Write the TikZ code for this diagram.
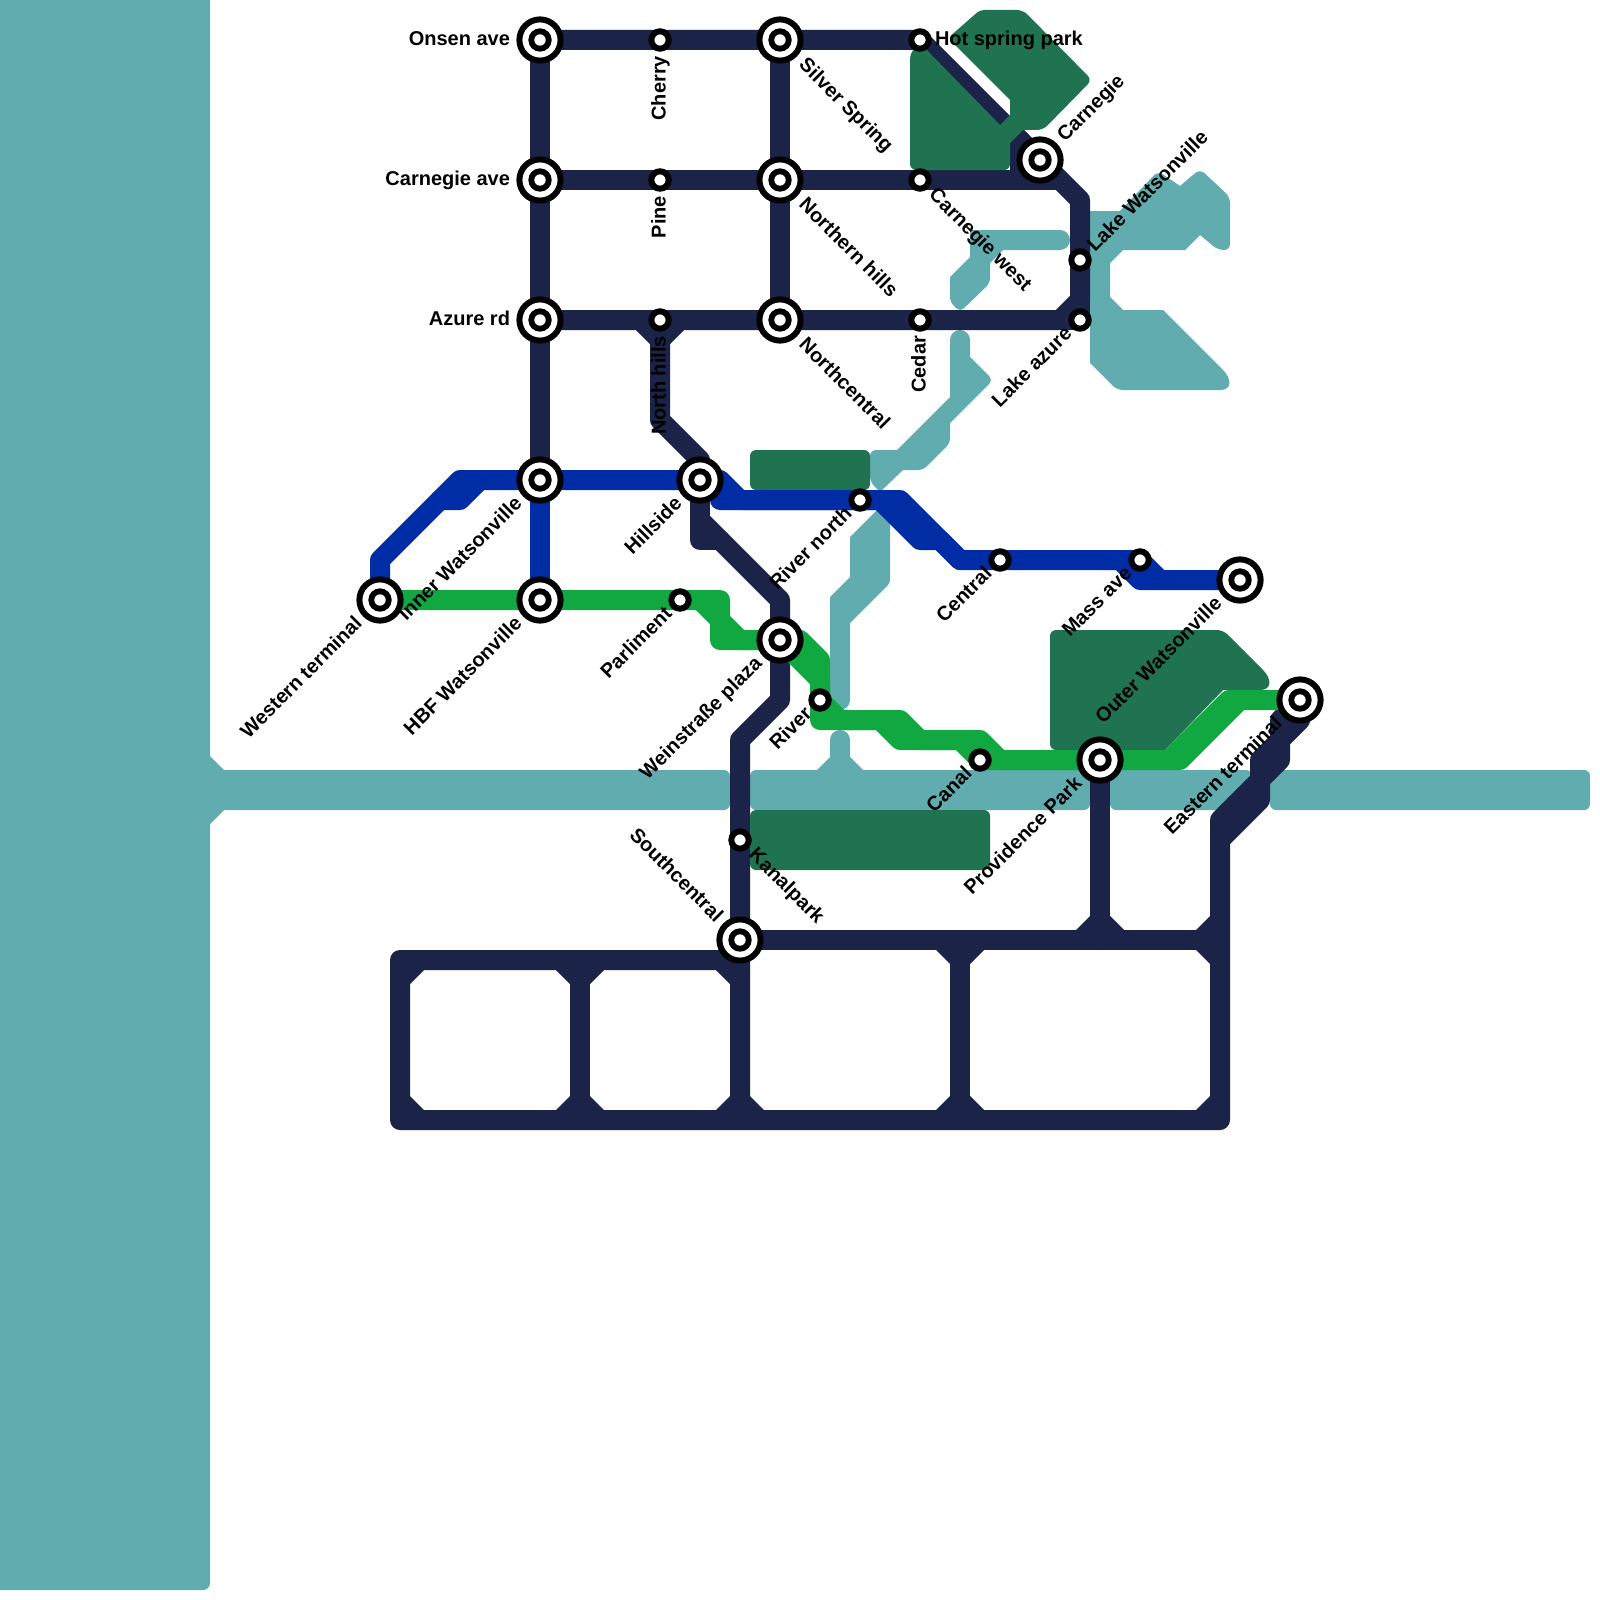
\documentclass[tikz,border=0pt]{standalone}
\usepackage{fontspec}
\setmainfont{Liberation Sans}
\definecolor{cNavy}{RGB}{27,36,72}
\definecolor{cBlue}{RGB}{0,45,165}
\definecolor{cGreen}{RGB}{17,168,66}
\definecolor{cPark}{RGB}{32,115,80}
\definecolor{cWater}{RGB}{97,172,175}
\pgfdeclarelayer{lyWater}
\pgfdeclarelayer{lyNavy}
\pgfdeclarelayer{lyPark}
\pgfdeclarelayer{lyGreen}
\pgfdeclarelayer{lyBlue}
\pgfdeclarelayer{lyText}
\pgfsetlayers{lyWater,lyNavy,lyPark,lyGreen,lyBlue,main,lyText}
\tikzset{
  waterfill/.style={fill=cWater,rounded corners=6pt},
  parkfill/.style={fill=cPark,rounded corners=6pt},
  track/.style={line width=20pt,line join=round,line cap=round},
  navyline/.style={track,draw=cNavy},
  blueline/.style={track,draw=cBlue},
  greenline/.style={track,draw=cGreen},
  interchange/.style={circle,draw=black,line width=6pt,fill=white,inner sep=0pt,outer sep=0pt,minimum size=41.2pt,
    path picture={\fill[black] (path picture bounding box.center) circle (11.7pt);
                  \fill[white] (path picture bounding box.center) circle (5.7pt);}},
  halt/.style={circle,draw=black,line width=6pt,fill=white,inner sep=0pt,outer sep=0pt,minimum size=17.4pt},
  lab/.style={font=\fontsize{20}{24}\selectfont\bfseries,text=black,inner sep=0pt,outer sep=0pt},
  labW/.style={lab,anchor=mid east,xshift=-30pt,yshift=-3pt},
  labE/.style={lab,anchor=mid west,xshift=15pt,yshift=-3pt},
  labUp/.style={lab,yshift=-16pt,rotate=90,yshift=-3pt,anchor=mid east},
  labDR/.style={lab,xshift=#1,yshift=-#1,rotate=-45,yshift=-3pt,anchor=mid west},
  labDL/.style={lab,xshift=-#1,yshift=-#1,rotate=45,yshift=-3pt,anchor=mid east},
  labUR/.style={lab,xshift=#1,yshift=#1,rotate=45,yshift=-3pt,anchor=mid west},
  labUL/.style={lab,xshift=-#1,yshift=#1,rotate=-45,yshift=-3pt,anchor=mid east},
}
\begin{document}
\begin{tikzpicture}[x=1pt,y=-1pt]
\useasboundingbox (0,0) rectangle (1600,1600);
% stations
\node[interchange] (sOnsen) at (540,40) {};
\node[halt] (sCherry) at (660,40) {};
\node[interchange] (sSilver) at (780,40) {};
\node[halt] (sHot) at (920,40) {};
\node[interchange] (sCarnAve) at (540,180) {};
\node[halt] (sPine) at (660,180) {};
\node[interchange] (sNorthern) at (780,180) {};
\node[halt] (sCarnW) at (920,180) {};
\node[interchange] (sCarnegie) at (1040,160) {};
\node[interchange] (sAzure) at (540,320) {};
\node[halt] (sNHills) at (660,320) {};
\node[interchange] (sNorthC) at (780,320) {};
\node[halt] (sCedar) at (920,320) {};
\node[halt] (sLakeW) at (1080,260) {};
\node[halt] (sLakeA) at (1080,320) {};
\node[interchange] (sInner) at (540,480) {};
\node[interchange] (sHill) at (700,480) {};
\node[halt] (sRivN) at (860,500) {};
\node[halt] (sCentral) at (1000,560) {};
\node[halt] (sMass) at (1140,560) {};
\node[interchange] (sOuter) at (1240,580) {};
\node[interchange] (sWest) at (380,600) {};
\node[interchange] (sHBF) at (540,600) {};
\node[halt] (sParl) at (680,600) {};
\node[interchange] (sWein) at (780,640) {};
\node[halt] (sRiver) at (820,700) {};
\node[halt] (sCanal) at (980,760) {};
\node[interchange] (sProv) at (1100,760) {};
\node[interchange] (sEast) at (1300,700) {};
\node[halt] (sKanal) at (740,840) {};
\node[interchange] (sSouth) at (740,940) {};

\begin{pgfonlayer}{lyWater}
\fill[white] (0,0) rectangle (1600,1600);
\fill[cWater] (0,0) -- (210,0) -- (210,756) -- (224,770) -- (224,810) -- (210,824) [rounded corners=7pt] -- (210,1590) [sharp corners] -- (0,1590) -- cycle;
\fill[waterfill] (200,770) -- (730,770) -- (730,810) -- (200,810) -- cycle;
\fill[waterfill] (750,770) [sharp corners] -- (817,770) -- (830,757) [rounded corners=10pt] -- (830,730) -- (850,730) [sharp corners] -- (850,757) -- (863,770) [rounded corners=6pt] -- (1090,770) -- (1090,810) -- (750,810) -- cycle;
\fill[waterfill] (1110,770) -- (1252,770) -- (1252,810) -- (1110,810) -- cycle;
\fill[waterfill] (1270,770) -- (1590,770) -- (1590,810) -- (1270,810) -- cycle;
% lower river
\fill[cWater] (850,537) -- (877,510) -- (890,523) [rounded corners=3pt] -- (890,583) [sharp corners] -- (850,623) [rounded corners=10pt] -- (850,710) -- (830,710) [sharp corners] -- (830,597) -- (850,577) -- cycle;
% upper river
\fill[waterfill] (950,340) [rounded corners=10pt] -- (950,330) -- (970,330) [sharp corners] -- (970,357) [rounded corners=5pt] -- (993,380) [sharp corners] -- (950,423) [rounded corners=4pt] -- (950,443) -- (923,470) [sharp corners] -- (903,470) -- (880,492) [rounded corners=6pt] -- (870,482) -- (870,450) [sharp corners] -- (897,450) -- (950,397) -- cycle;
% small arm
\fill[waterfill] (970,230) [rounded corners=10pt] -- (1070,230) -- (1070,250) [sharp corners] -- (1003,250) -- (990,263) [rounded corners=5pt] -- (990,283) -- (960,312) -- (950,302) [sharp corners] -- (950,277) -- (970,257) -- cycle;
% lake
\fill[waterfill] (1090,211) [sharp corners] -- (1120,211) [rounded corners=6pt] -- (1158,171) [sharp corners] -- (1180,186) [rounded corners=6pt] -- (1200,169) -- (1230,197) -- (1230,250) -- (1218,250) [sharp corners] -- (1200,235) -- (1185,250) -- (1123,250) -- (1110,263) -- (1110,297) -- (1123,310) -- (1163,310) -- (1223,370) .. controls (1232,379) and (1232,390) .. (1220,390) [rounded corners=6pt] -- (1117,390) [sharp corners] -- (1090,363) -- cycle;
\end{pgfonlayer}

\begin{pgfonlayer}{lyNavy}
\draw[navyline] (sOnsen.center) -- (sCherry.center) -- (sSilver.center) -- (sHot.center) -- (sCarnegie.center) -- (1080,200) -- (sLakeW.center) -- (1080,300) -- (1060,320) -- (sCedar.center) -- (sNorthC.center) -- (sNHills.center) -- (sAzure.center);
\draw[navyline] (1080,300) -- (sLakeA.center) -- (1060,320);
\draw[navyline] (sCarnAve.center) -- (sPine.center) -- (sNorthern.center) -- (sCarnW.center) -- (1056,180);
\draw[navyline] (1020,140) -- (1020,180);
\draw[navyline] (sOnsen.center) -- (sCarnAve.center) -- (sAzure.center) -- (sInner.center);
\draw[navyline] (sSilver.center) -- (sNorthern.center) -- (sNorthC.center);
\draw[navyline] (640,320) -- (660,340) -- (680,320);
\draw[navyline] (sNHills.center) -- (660,420) -- (sHill.center |- 0,460) -- (sHill.center);
\draw[navyline] (sHill.center) -- (700,540) -- (720,540);
\draw[navyline] (700,520) -- (780,600) -- (sWein.center) -- (780,700) -- (740,740) -- (sKanal.center) -- (sSouth.center) -- (740,1120);
\draw[navyline] (sSouth.center |- 0,960) -- (400,960) -- (400,1120) -- (1220,1120) -- (1220,820) -- (1280,760) -- (1280,740) -- (1300,720);
\draw[navyline] (580,960) -- (580,1120);
\draw[navyline] (960,940) -- (960,1120);
\draw[navyline] (sSouth.center) -- (1220,940);
\draw[navyline] (sProv.center) -- (1100,940);
\draw[navyline] (1220,840) -- (1260,800) -- (1260,760) -- (1300,720);
\draw[navyline] (sEast.center) -- (1280,720) -- (1280,740);
\foreach \cx/\cy/\sx/\sy in {410/970/1/1,410/1110/1/-1,570/970/-1/1,570/1110/-1/-1,590/970/1/1,590/1110/1/-1,730/970/-1/1,730/1110/-1/-1,750/1110/1/-1,950/950/-1/1,950/1110/-1/-1,970/950/1/1,970/1110/1/-1,1210/950/-1/1,1210/1110/-1/-1,1090/930/-1/-1,1110/930/1/-1,1210/930/-1/-1}
  \fill[cNavy] (\cx,\cy) -- ++(\sx*14,0) -- ++(-\sx*14,\sy*14) -- cycle;
\end{pgfonlayer}

\begin{pgfonlayer}{lyPark}
\fill[parkfill] (980,10) -- (1023,10) -- (1092,80) -- (1043,130) [sharp corners] -- (1023,130) -- (1010,143) [rounded corners=6pt] -- (1010,170) -- (910,170) -- (910,53) [sharp corners] -- (920,43) -- (1000,125) -- (1010,115) -- (1010,100) [rounded corners=4pt] -- (948,38) -- cycle;
\fill[parkfill] (750,450) rectangle (870,490);
\fill[parkfill] (750,810) rectangle (990,870);
\fill[parkfill] (1050,630) -- (1223,630) [sharp corners] -- (1263,670) .. controls (1272,679) and (1272,690) .. (1260,690) -- (1223,690) -- (1165,750) [rounded corners=6pt] -- (1050,750) -- cycle;
\end{pgfonlayer}

\begin{pgfonlayer}{lyGreen}
\draw[greenline] (sWest.center) -- (sHBF.center) -- (sParl.center) -- (720,600) -- (720,620) -- (740,640) -- (sWein.center);
\draw[greenline] (700,600) -- (720,620) -- (720,640) -- (sWein.center);
\draw[greenline] (sWein.center) -- (800,640) -- (820,660) -- (sRiver.center) -- (840,720) -- (900,720) -- (920,740) -- (980,740) -- (1000,760) -- (sProv.center);
\draw[greenline] (sWein.center) -- (820,680) -- (820,720) -- (880,720) -- (900,740) -- (960,740) -- (sCanal.center) -- (sProv.center);
\draw[greenline] (sProv.center) -- (1180,760) -- (1240,700) -- (sEast.center);
\draw[greenline] (1169,760) -- (1229,700) -- (1240,700);
\end{pgfonlayer}

\begin{pgfonlayer}{lyBlue}
\draw[blueline] (sWest.center) -- (380,560) -- (460,480) -- (sInner.center) -- (sHill.center) -- (720,480) -- (740,500) -- (900,500) -- (960,560) -- (sCentral.center) -- (sMass.center) -- (1160,580) -- (sOuter.center);
\draw[blueline] (440,500) -- (460,500) -- (480,480);
\draw[blueline] (sInner.center) -- (sHBF.center);
\draw[blueline] (720,500) -- (sRivN.center) -- (880,500) -- (920,540) -- (940,540) -- (960,560);
\draw[blueline] (1120,560) -- (1140,580) -- (1160,580);
\end{pgfonlayer}

\begin{pgfonlayer}{lyText}
\node[labW] (lOnsen) at (sOnsen) {Onsen ave};
\node[labW] (lCarnAve) at (sCarnAve) {Carnegie ave};
\node[labW] (lAzure) at (sAzure) {Azure rd};
\node[labUp] (lCherry) at (sCherry) {Cherry};
\node[labUp] (lPine) at (sPine) {Pine};
\node[labUp] (lNHills) at (sNHills) {North hills};
\node[labUp] (lCedar) at (sCedar) {Cedar};
\node[labE] (lHot) at (sHot) {Hot spring park};
\node[labDR=22pt] (lSilver) at (sSilver) {Silver Spring};
\node[labDR=22pt] (lNorthern) at (sNorthern) {Northern hills};
\node[labDR=22pt] (lNorthC) at (sNorthC) {Northcentral};
\node[labDR=12pt] (lCarnW) at (sCarnW) {Carnegie west};
\node[labDR=12pt] (lKanal) at (sKanal) {Kanalpark};
\node[labUL=21pt] (lSouth) at (sSouth) {Southcentral};
\node[labUR=21pt] (lCarnegie) at (sCarnegie) {Carnegie};
\node[labUR=11pt] (lLakeW) at (sLakeW) {Lake Watsonville};
\node[labDL=11pt] (lLakeA) at (sLakeA) {Lake azure};
\node[labDL=21pt] (lInner) at (sInner) {Inner Watsonville};
\node[labDL=21pt] (lHill) at (sHill) {Hillside};
\node[labDL=11pt] (lRivN) at (sRivN) {River north};
\node[labDL=11pt] (lCentral) at (sCentral) {Central};
\node[labDL=11pt] (lMass) at (sMass) {Mass ave};
\node[labDL=21pt] (lOuter) at (sOuter) {Outer Watsonville};
\node[labDL=21pt] (lWest) at (sWest) {Western terminal};
\node[labDL=21pt] (lHBF) at (sHBF) {HBF Watsonville};
\node[labDL=11pt] (lParl) at (sParl) {Parliment};
\node[labDL=21pt] (lWein) at (sWein) {Weinstraße plaza};
\node[labDL=11pt] (lRiver) at (sRiver) {River};
\node[labDL=11pt] (lCanal) at (sCanal) {Canal};
\node[labDL=21pt] (lProv) at (sProv) {Providence Park};
\node[labDL=21pt] (lEast) at (sEast) {Eastern terminal};
\end{pgfonlayer}
\end{tikzpicture}
\end{document}
